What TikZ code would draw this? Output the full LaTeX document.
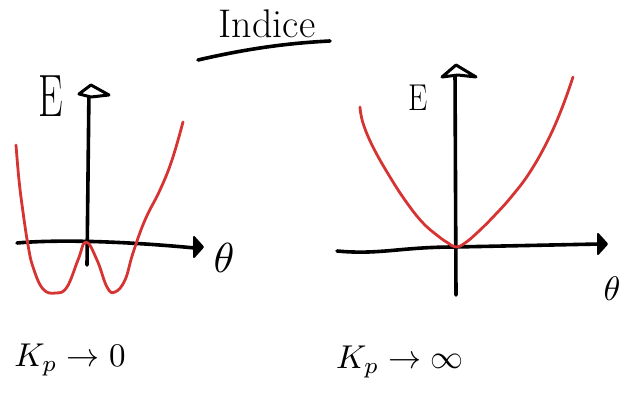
\documentclass[tikz,border=0pt]{standalone}
\usepackage{fontspec}
\usepackage{graphicx}
\definecolor{curvered}{RGB}{214,52,50}
\tikzset{
  axis/.style={line width=3.6pt, line cap=round, line join=round, black},
  curve/.style={line width=2.8pt, line cap=round, line join=round, curvered},
  opentip/.style={line width=3pt, line join=round, line cap=round, black, fill=white},
  filledtip/.style={line width=2pt, line join=round, black, fill=black},
  lbl/.style={inner sep=0pt},
}
\begin{document}
\begin{tikzpicture}[x=1pt,y=-1pt]
\useasboundingbox (0,0) rectangle (624,395);
% title
\node[lbl, font=\fontsize{40}{44}\selectfont] (title) at (267,24) {Indice};
\coordinate (ulA) at (198,60);
\coordinate (ulB) at (330,41);
\draw[axis] (ulA) .. controls (250,48) and (290,43) .. (ulB);

% ---------- left graph ----------
\coordinate (lyb) at (87,265);
\coordinate (lyt) at (89,88);
\coordinate (lxl) at (17,243);
\coordinate (lxr) at (195,248);
\draw[axis] (lyb) -- (lyt);
\draw[axis] (lxl) .. controls (50,240) and (110,240) .. (lxr);
\draw[opentip] (79,94) -- (91,85) -- (109,95) -- (91,97) -- cycle;
\draw[filledtip] (194,237) -- (203,247) -- (194,257) -- cycle;
\node[lbl, font=\fontsize{46}{50}\selectfont] (lE) at (51,96) {\scalebox{0.85}[1.3]{E}};
\node[lbl] (lth) at (224,258) {\scalebox{4.2}{$\theta$}};
\draw[curve] plot[smooth, tension=0.7] coordinates {
 (16,145) (19,180) (23,212) (28,245) (33,267) (43,289) (56,293) (67,287)
 (78,260) (86,242) (97,260) (107,287) (115,292) (125,280) (133,253)
 (145,220) (160,190) (172,160) (183,122)};
\node[lbl] (lk) at (70,360) {\scalebox{3.3}{$K_p\to 0$}};

% ---------- right graph ----------
\coordinate (ryb) at (456,295);
\coordinate (ryt) at (455,70);
\coordinate (rxl) at (337,251);
\coordinate (rxr) at (600,244);
\draw[axis] (ryb) -- (ryt);
\draw[axis] (rxl) .. controls (380,255) and (400,247) .. (455,247) -- (rxr);
\draw[opentip] (442,77) -- (456,65) -- (476,77) -- (458,75) -- cycle;
\draw[filledtip] (598,234) -- (607,244) -- (598,254) -- cycle;
\node[lbl, font=\fontsize{34}{38}\selectfont] (rE) at (418,98) {\scalebox{0.9}[1.1]{E}};
\node[lbl] (rth) at (612,289) {\scalebox{3.4}{$\theta$}};
\draw[curve] plot[smooth, tension=0.7] coordinates {
 (360,107) (363,123) (373,147) (390,177) (407,203) (423,223) (438,236)
 (448,243) (456,247) (465,243) (478,232) (495,215) (512,196) (530,172) (548,140) (562,108) (573,77)};
\node[lbl] (rk) at (400,362) {\scalebox{3.3}{$K_p\to \infty$}};
\end{tikzpicture}
\end{document}
